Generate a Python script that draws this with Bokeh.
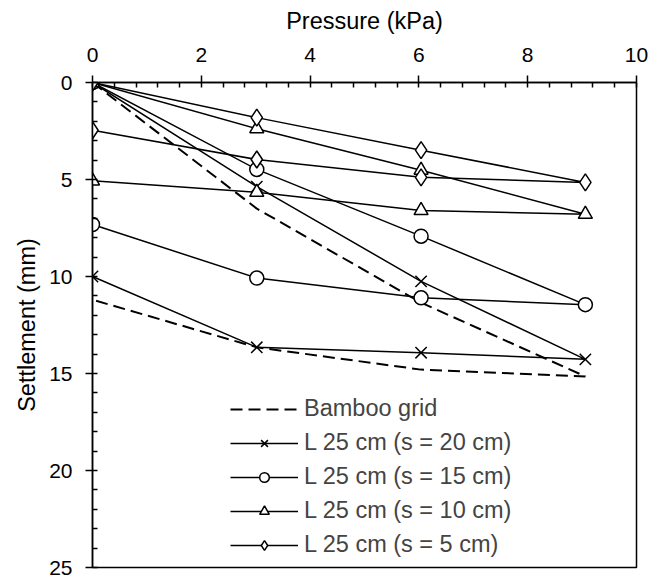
from bokeh.plotting import figure
from bokeh.models import Range1d, SingleIntervalTicker, Legend, LegendItem
from bokeh.embed import file_html
from bokeh.resources import INLINE

# Data (path order: loading 0->9 kPa, then unloading 9->0 kPa)
pressure = [0, 3.02, 6.04, 9.06, 6.04, 3.02, 0]
bamboo_grid = [0, 6.5, 11.35, 15.15, 14.8, 13.65, 11.2]
s20 = [0, 5.37, 10.25, 14.27, 13.93, 13.65, 10.0]
s15 = [0, 4.48, 7.92, 11.45, 11.1, 10.08, 7.32]
s10 = [0, 2.38, 4.52, 6.79, 6.6, 5.66, 5.07]
s5 = [0, 1.81, 3.49, 5.15, 4.89, 3.97, 2.46]

labels = ["Bamboo grid", "L 25 cm (s = 20 cm)", "L 25 cm (s = 15 cm)",
          "L 25 cm (s = 10 cm)", "L 25 cm (s = 5 cm)"]

FONT = "Liberation Sans"

p = figure(width=652, height=580, output_backend="svg", toolbar_location=None,
           x_axis_location="above", x_range=Range1d(0, 10), y_range=Range1d(25, 0),
           min_border_left=92, min_border_top=82, min_border_right=16, min_border_bottom=13)
p.xgrid.visible = False
p.ygrid.visible = False
p.outline_line_color = "black"
p.outline_line_width = 1.5
p.background_fill_color = "white"
p.border_fill_color = "white"

p.xaxis.ticker = SingleIntervalTicker(interval=2, num_minor_ticks=5)
p.yaxis.ticker = SingleIntervalTicker(interval=5, num_minor_ticks=5)
p.xaxis.axis_label = "Pressure (kPa)"
p.yaxis.axis_label = "Settlement (mm)"
for ax in (p.xaxis[0], p.yaxis[0]):
    ax.axis_label_text_font = FONT
    ax.axis_label_text_font_size = "23.5px"
    ax.axis_label_text_font_style = "normal"
    ax.axis_label_text_color = "black"
    ax.major_label_text_font = FONT
    ax.major_label_text_font_size = "21px"
    ax.major_label_text_color = "black"
    ax.axis_line_color = "black"
    ax.axis_line_width = 1.5
    ax.major_tick_line_color = "black"
    ax.major_tick_line_width = 1.5
    ax.minor_tick_line_color = "black"
    ax.minor_tick_line_width = 1.5
    ax.major_tick_in = 0
    ax.major_tick_out = 7
    ax.minor_tick_in = 5
    ax.minor_tick_out = 0
p.xaxis.major_label_standoff = 14
p.yaxis.major_label_standoff = 13
p.xaxis.axis_label_standoff = 11
p.yaxis.axis_label_standoff = 6

items = []
r = p.line(pressure, bamboo_grid, line_color="black", line_width=2, line_dash="12 6")
items.append(LegendItem(label=labels[0], renderers=[r]))

series = [(s20, "x", 16), (s15, "circle", 14), (s10, "triangle", 14), (s5, "diamond", 17)]
for (vals, marker, size), lab in zip(series, labels[1:]):
    rl = p.line(pressure, vals, line_color="black", line_width=1.5)
    rs = p.scatter(pressure, vals, marker=marker, size=size, line_color="black",
                   fill_color="white", line_width=1.5)
    items.append(LegendItem(label=lab, renderers=[rl, rs]))

legend = Legend(items=items, location=(138, 9), glyph_width=68, glyph_height=24,
                label_height=24, spacing=7, padding=0, margin=0, label_standoff=6,
                label_text_font=FONT, label_text_font_size="23.5px",
                background_fill_alpha=0, border_line_alpha=0)
p.add_layout(legend, "center")

open("out.html", "w").write(file_html(p, INLINE))
